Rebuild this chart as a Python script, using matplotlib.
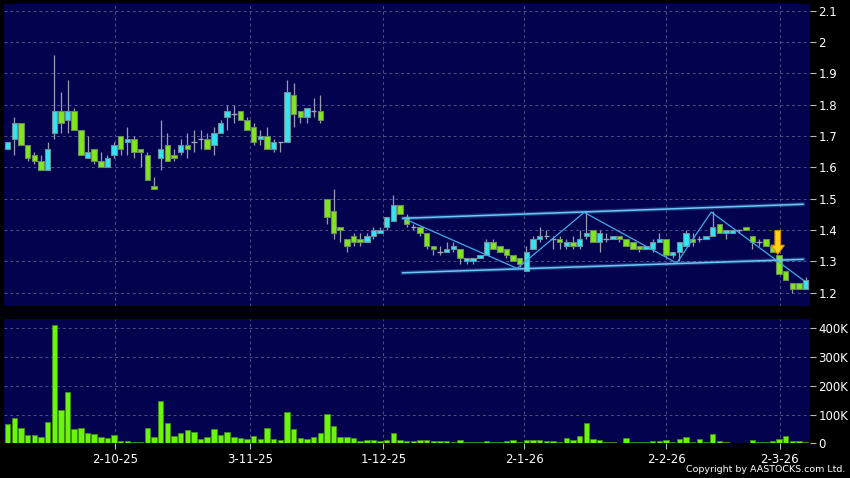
import numpy as np
import matplotlib
matplotlib.use("Agg")
import matplotlib.pyplot as plt
from matplotlib.patches import FancyArrow

# daily OHLC (one per trading day, oldest first)
opens = [1.66, 1.69, 1.74, 1.67, 1.64, 1.62, 1.59, 1.71, 1.78, 1.75, 1.78, 1.72, 1.63, 1.66, 1.62, 1.60,
         1.64, 1.70, 1.68, 1.69, 1.66, 1.64, 1.54, 1.63, 1.67, 1.64, 1.65, 1.67, 1.68, 1.69, 1.69, 1.67,
         1.71, 1.76, 1.77, 1.78, 1.75, 1.73, 1.69, 1.70, 1.66, 1.68, 1.68, 1.83, 1.78, 1.76, 1.78, 1.78,
         1.50, 1.46, 1.41, 1.37, 1.38, 1.37, 1.36, 1.38, 1.39, 1.41, 1.43, 1.48, 1.44, 1.41, 1.41, 1.39,
         1.35, 1.33, 1.33, 1.34, 1.34, 1.30, 1.30, 1.31, 1.32, 1.36, 1.35, 1.34, 1.32, 1.31, 1.27, 1.34,
         1.37, 1.38, 1.37, 1.37, 1.35, 1.36, 1.35, 1.38, 1.40, 1.36, 1.37, 1.37, 1.38, 1.37, 1.36, 1.35,
         1.34, 1.34, 1.36, 1.37, 1.32, 1.33, 1.35, 1.37, 1.37, 1.37, 1.38, 1.42, 1.39, 1.39, 1.40, 1.41,
         1.38, 1.36, 1.37, 1.35, 1.32, 1.27, 1.23, 1.23, 1.21]
highs = [1.68, 1.76, 1.74, 1.67, 1.65, 1.64, 1.68, 1.96, 1.84, 1.88, 1.79, 1.72, 1.70, 1.66, 1.65, 1.64,
         1.68, 1.70, 1.73, 1.70, 1.66, 1.65, 1.57, 1.75, 1.71, 1.66, 1.69, 1.71, 1.72, 1.72, 1.71, 1.73,
         1.75, 1.80, 1.80, 1.78, 1.76, 1.74, 1.72, 1.73, 1.69, 1.68, 1.88, 1.87, 1.78, 1.79, 1.82, 1.83,
         1.50, 1.53, 1.41, 1.37, 1.39, 1.39, 1.39, 1.41, 1.41, 1.44, 1.51, 1.48, 1.45, 1.42, 1.41, 1.39,
         1.35, 1.35, 1.36, 1.36, 1.34, 1.31, 1.31, 1.32, 1.37, 1.37, 1.35, 1.34, 1.32, 1.31, 1.35, 1.38,
         1.41, 1.40, 1.38, 1.38, 1.37, 1.38, 1.40, 1.46, 1.40, 1.40, 1.39, 1.38, 1.38, 1.37, 1.36, 1.35,
         1.35, 1.37, 1.39, 1.37, 1.33, 1.36, 1.40, 1.39, 1.38, 1.38, 1.46, 1.42, 1.40, 1.40, 1.40, 1.41,
         1.38, 1.37, 1.37, 1.35, 1.32, 1.27, 1.23, 1.23, 1.25]
lows = [1.66, 1.64, 1.67, 1.62, 1.61, 1.59, 1.59, 1.69, 1.71, 1.71, 1.72, 1.64, 1.63, 1.61, 1.60, 1.60,
        1.63, 1.64, 1.64, 1.63, 1.60, 1.56, 1.53, 1.59, 1.62, 1.62, 1.64, 1.63, 1.65, 1.66, 1.66, 1.64,
        1.71, 1.72, 1.74, 1.75, 1.72, 1.67, 1.67, 1.66, 1.65, 1.65, 1.68, 1.73, 1.74, 1.74, 1.76, 1.74,
        1.42, 1.37, 1.36, 1.33, 1.35, 1.35, 1.36, 1.37, 1.39, 1.40, 1.43, 1.45, 1.41, 1.40, 1.38, 1.34,
        1.32, 1.32, 1.33, 1.33, 1.29, 1.29, 1.29, 1.31, 1.32, 1.34, 1.33, 1.31, 1.30, 1.28, 1.27, 1.34,
        1.36, 1.37, 1.34, 1.34, 1.34, 1.34, 1.34, 1.37, 1.36, 1.33, 1.36, 1.37, 1.36, 1.35, 1.34, 1.33,
        1.34, 1.33, 1.36, 1.31, 1.31, 1.30, 1.35, 1.35, 1.36, 1.37, 1.38, 1.39, 1.37, 1.39, 1.39, 1.40,
        1.34, 1.35, 1.35, 1.33, 1.26, 1.24, 1.20, 1.21, 1.21]
closes = [1.68, 1.74, 1.67, 1.63, 1.62, 1.59, 1.66, 1.78, 1.74, 1.78, 1.72, 1.64, 1.65, 1.62, 1.60, 1.63,
          1.67, 1.66, 1.69, 1.65, 1.65, 1.56, 1.53, 1.66, 1.62, 1.63, 1.67, 1.66, 1.68, 1.69, 1.66, 1.71,
          1.74, 1.78, 1.77, 1.75, 1.72, 1.68, 1.70, 1.66, 1.68, 1.68, 1.84, 1.77, 1.76, 1.79, 1.78, 1.75,
          1.44, 1.39, 1.40, 1.35, 1.36, 1.36, 1.38, 1.40, 1.40, 1.44, 1.48, 1.45, 1.42, 1.41, 1.39, 1.35,
          1.34, 1.33, 1.34, 1.35, 1.31, 1.31, 1.31, 1.32, 1.36, 1.34, 1.33, 1.32, 1.30, 1.29, 1.33, 1.37,
          1.38, 1.38, 1.37, 1.36, 1.36, 1.35, 1.37, 1.39, 1.36, 1.39, 1.37, 1.38, 1.37, 1.35, 1.34, 1.34,
          1.35, 1.36, 1.37, 1.32, 1.33, 1.36, 1.39, 1.36, 1.37, 1.38, 1.41, 1.39, 1.40, 1.40, 1.40, 1.40,
          1.36, 1.36, 1.35, 1.33, 1.26, 1.24, 1.21, 1.21, 1.24]
# volume in thousands of shares
volumes = [68, 87, 52, 29, 29, 23, 74, 411, 116, 177, 50, 52, 36, 31, 21, 19, 28, 8, 8, 5, 6, 55, 21, 148,
           72, 26, 36, 45, 39, 16, 23, 49, 29, 40, 22, 18, 16, 27, 16, 55, 15, 10, 108, 51, 18, 16, 21, 36,
           102, 60, 21, 21, 18, 8, 10, 10, 7, 10, 36, 13, 9, 7, 10, 13, 9, 8, 8, 6, 12, 5, 5, 5, 8, 6, 3,
           7, 10, 6, 13, 13, 13, 7, 7, 5, 20, 13, 24, 72, 14, 12, 6, 5, 2, 19, 6, 6, 6, 9, 9, 11, 5, 16,
           22, 4, 16, 5, 34, 7, 4, 1, 1, 2, 11, 4, 4, 8, 16, 25, 8, 8, 4]

date_labels = ["2-10-25", "3-11-25", "1-12-25", "2-1-26", "2-2-26", "2-3-26"]
date_pos = [16.2, 36.4, 56.5, 77.7, 99.0, 116.1]

# drawn trend channel and zigzag (bar index, price)
chan_x = [59.4, 119.6]
chan_upper = [1.437, 1.482]
chan_lower = [1.263, 1.306]
zig_x = [59.7, 76.6, 86.7, 100.6, 105.8, 119.6]
zig_y = [1.435, 1.277, 1.456, 1.294, 1.457, 1.240]
signal_x, signal_top, signal_tip = 115.8, 1.398, 1.322

BG = "#02024e"
GRID = "#4e4e88"
UP = "#33e4f2"
DOWN = "#82e61c"

o, h, l, c = map(np.array, (opens, highs, lows, closes))
x = np.arange(len(o))

fig = plt.figure(figsize=(8.5, 4.78), dpi=100, facecolor="black")
ax = fig.add_axes([4 / 850, 1 - 306 / 478, 806 / 850, 302 / 478])
axv = fig.add_axes([4 / 850, 1 - 443.3 / 478, 806 / 850, 124.3 / 478], sharex=ax)

for a in (ax, axv):
    a.set_facecolor(BG)
    for s in a.spines.values():
        s.set_visible(False)
    a.grid(True, color=GRID, linestyle=(0, (3, 3)), linewidth=0.7)
    a.set_axisbelow(True)
    a.yaxis.tick_right()
    a.tick_params(axis="y", colors="#bbbbbb", labelcolor="white", labelsize=8.5,
                  length=4, width=0.8, pad=2)
    a.tick_params(axis="x", colors="#bbbbbb", labelcolor="white", labelsize=8.5,
                  length=4, width=0.8, pad=3)

# candles
up = c > o
down = c < o
flat = c == o
ax.vlines(x, l, h, color="#9a9ab0", linewidth=0.9, zorder=2)
body_w = 0.82
ax.bar(x[up], c[up] - o[up], bottom=o[up], width=body_w, color=UP,
       edgecolor="#6f8f98", linewidth=0.8, zorder=3)
ax.bar(x[down], o[down] - c[down], bottom=c[down], width=body_w, color=DOWN,
       edgecolor="#6a8a60", linewidth=0.8, zorder=3)
ax.hlines(c[flat], x[flat] - body_w / 2, x[flat] + body_w / 2, color="#a0a0b8",
          linewidth=1.0, zorder=3)

# trend lines
for yy in (chan_upper, chan_lower):
    ax.plot(chan_x, yy, color="#5fc2f6", linewidth=3, alpha=0.25, zorder=4)
    ax.plot(chan_x, yy, color="#6cc8f8", linewidth=1.1, zorder=4)
ax.plot(zig_x, zig_y, color="#45a8e6", linewidth=0.9, zorder=4)

ax.add_patch(FancyArrow(signal_x, signal_top, 0, signal_tip - signal_top, width=0.85,
                        head_width=2.0, head_length=0.029, length_includes_head=True,
                        facecolor="#ffd21a", edgecolor="#e08a00", linewidth=0.8, zorder=5))

ax.set_ylim(1.1569, 2.1217)
ax.set_yticks(np.round(np.arange(1.2, 2.11, 0.1), 1))
ax.set_yticklabels([f"{v:g}" for v in np.round(np.arange(1.2, 2.11, 0.1), 1)])
ax.tick_params(axis="x", labelbottom=False, length=0)

# volume
axv.bar(x, np.array(volumes) * 1000, width=0.82, color="#6cf50c", edgecolor="#3f8f10",
        linewidth=0.6, zorder=3)
axv.set_ylim(0, 433000)
axv.set_yticks([0, 100000, 200000, 300000, 400000])
axv.set_yticklabels(["0", "100K", "200K", "300K", "400K"])

axv.set_xlim(-0.56, 120.65)
axv.set_xticks(date_pos)
axv.set_xticklabels(date_labels)

fig.text(845 / 850, 1 - 470 / 478, "Copyright by AASTOCKS.com Ltd.", color="white",
         fontsize=6.8, ha="right", va="center")

fig.savefig("out.png", dpi=100, facecolor="black")
